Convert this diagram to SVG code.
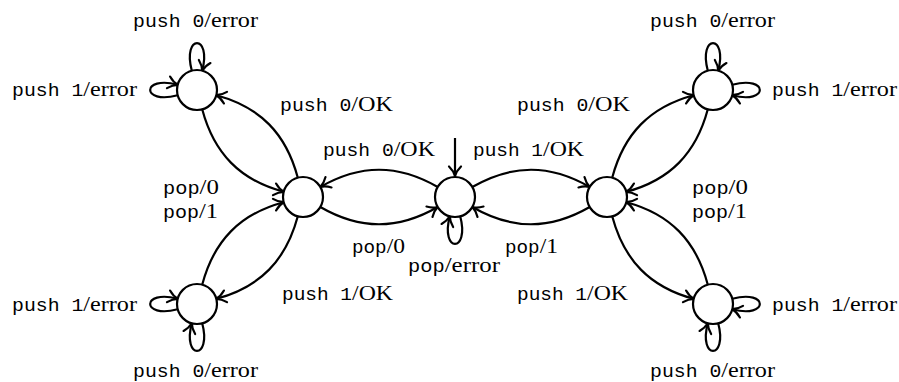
<svg xmlns="http://www.w3.org/2000/svg" width="899" height="382" viewBox="0 0 899 382">
<defs>
<style>
.n{fill:#fff;stroke:#000;stroke-width:2.2}
.e{fill:none;stroke:#000;stroke-width:2.2;marker-end:url(#a)}
text{font-family:"Liberation Serif","Times New Roman",serif;font-size:22px;fill:#000}
.t{font-family:"Liberation Mono","Courier New",monospace;font-size:18px}
</style>
<marker id="a" markerUnits="userSpaceOnUse" markerWidth="20" markerHeight="20" refX="0" refY="0" orient="auto" overflow="visible">
<path d="M-9.5,-6 C-6,-2.4 -2.5,-0.7 0,0 C-2.5,0.7 -6,2.4 -9.5,6" fill="none" stroke="#000" stroke-width="2.2" stroke-linecap="round" stroke-linejoin="round"/>
</marker>
</defs>
<rect width="899" height="382" fill="#fff"/>
<g id="connectors">
<path class="e" d="M202.2,109.3 C213.9,153.2 239.8,180.1 283.7,191.8"/>
<path class="e" d="M297.8,177.7 C286.1,133.8 260.2,106.9 216.3,95.2"/>
<path class="e" d="M297.8,216.3 C286.1,260.2 260.2,287.1 216.3,298.8"/>
<path class="e" d="M202.2,284.7 C213.9,240.8 239.8,213.9 283.7,202.2"/>
<path class="e" d="M707.8,109.3 C696.1,153.2 670.2,180.1 626.3,191.8"/>
<path class="e" d="M612.2,177.7 C623.9,133.8 649.8,106.9 693.7,95.2"/>
<path class="e" d="M612.2,216.3 C623.9,260.2 649.8,287.1 693.7,298.8"/>
<path class="e" d="M707.8,284.7 C696.1,240.8 670.2,213.9 626.3,202.2"/>
<path class="e" d="M437.7,187 C397.9,164 360.1,164 320.3,187"/>
<path class="e" d="M320.3,207 C360.1,230 397.9,230 437.7,207"/>
<path class="e" d="M472.3,187 C512.1,164 549.9,164 589.7,187"/>
<path class="e" d="M589.7,207 C549.9,230 512.1,230 472.3,207"/>
<path class="e" d="M455,138 L455,176"/>
<path class="e" d="M191.8,70.7 C182,34 212,34 202.2,70.7"/>
<path class="e" d="M707.8,70.7 C698,34 728,34 718.2,70.7"/>
<path class="e" d="M177.7,95.2 C141,105 141,75 177.7,84.8"/>
<path class="e" d="M177.7,309.2 C141,319 141,289 177.7,298.8"/>
<path class="e" d="M732.3,84.8 C769,75 769,105 732.3,95.2"/>
<path class="e" d="M732.3,298.8 C769,289 769,319 732.3,309.2"/>
<path class="e" d="M202.2,323.3 C212,360 182,360 191.8,323.3"/>
<path class="e" d="M718.2,323.3 C728,360 698,360 707.8,323.3"/>
<path class="e" d="M460.2,216.3 C470,253 440,253 449.8,216.3"/>
</g>
<g id="labels">
<text x="133" y="27" textLength="125" lengthAdjust="spacingAndGlyphs"><tspan class="t">push 0</tspan>/error</text>
<text x="12" y="96" textLength="125" lengthAdjust="spacingAndGlyphs"><tspan class="t">push 1</tspan>/error</text>
<text x="12" y="311" textLength="125" lengthAdjust="spacingAndGlyphs"><tspan class="t">push 1</tspan>/error</text>
<text x="133" y="377" textLength="125" lengthAdjust="spacingAndGlyphs"><tspan class="t">push 0</tspan>/error</text>
<text x="650" y="27" textLength="125" lengthAdjust="spacingAndGlyphs"><tspan class="t">push 0</tspan>/error</text>
<text x="772" y="96" textLength="125" lengthAdjust="spacingAndGlyphs"><tspan class="t">push 1</tspan>/error</text>
<text x="772" y="311" textLength="125" lengthAdjust="spacingAndGlyphs"><tspan class="t">push 1</tspan>/error</text>
<text x="650" y="377" textLength="125" lengthAdjust="spacingAndGlyphs"><tspan class="t">push 0</tspan>/error</text>
<text x="280" y="111" textLength="113" lengthAdjust="spacingAndGlyphs"><tspan class="t">push 0</tspan>/OK</text>
<text x="323" y="156" textLength="112" lengthAdjust="spacingAndGlyphs"><tspan class="t">push 0</tspan>/OK</text>
<text x="473" y="156" textLength="111" lengthAdjust="spacingAndGlyphs"><tspan class="t">push 1</tspan>/OK</text>
<text x="517" y="111" textLength="113" lengthAdjust="spacingAndGlyphs"><tspan class="t">push 0</tspan>/OK</text>
<text x="282" y="300" textLength="111" lengthAdjust="spacingAndGlyphs"><tspan class="t">push 1</tspan>/OK</text>
<text x="517" y="300" textLength="111" lengthAdjust="spacingAndGlyphs"><tspan class="t">push 1</tspan>/OK</text>
<text x="163" y="194" textLength="56" lengthAdjust="spacingAndGlyphs"><tspan class="t">pop</tspan>/0</text>
<text x="163" y="218" textLength="55" lengthAdjust="spacingAndGlyphs"><tspan class="t">pop</tspan>/1</text>
<text x="692" y="194" textLength="56" lengthAdjust="spacingAndGlyphs"><tspan class="t">pop</tspan>/0</text>
<text x="692" y="218" textLength="55" lengthAdjust="spacingAndGlyphs"><tspan class="t">pop</tspan>/1</text>
<text x="352" y="253" textLength="53" lengthAdjust="spacingAndGlyphs"><tspan class="t">pop</tspan>/0</text>
<text x="505" y="253" textLength="53" lengthAdjust="spacingAndGlyphs"><tspan class="t">pop</tspan>/1</text>
<text x="408" y="272" textLength="92" lengthAdjust="spacingAndGlyphs"><tspan class="t">pop</tspan>/error</text>
</g>
<g id="node-tl"><circle class="n" cx="197" cy="90" r="20"/></g>
<g id="node-cl"><circle class="n" cx="303" cy="197" r="20"/></g>
<g id="node-c"><circle class="n" cx="455" cy="197" r="20"/></g>
<g id="node-cr"><circle class="n" cx="607" cy="197" r="20"/></g>
<g id="node-tr"><circle class="n" cx="713" cy="90" r="20"/></g>
<g id="node-bl"><circle class="n" cx="197" cy="304" r="20"/></g>
<g id="node-br"><circle class="n" cx="713" cy="304" r="20"/></g>
</svg>
